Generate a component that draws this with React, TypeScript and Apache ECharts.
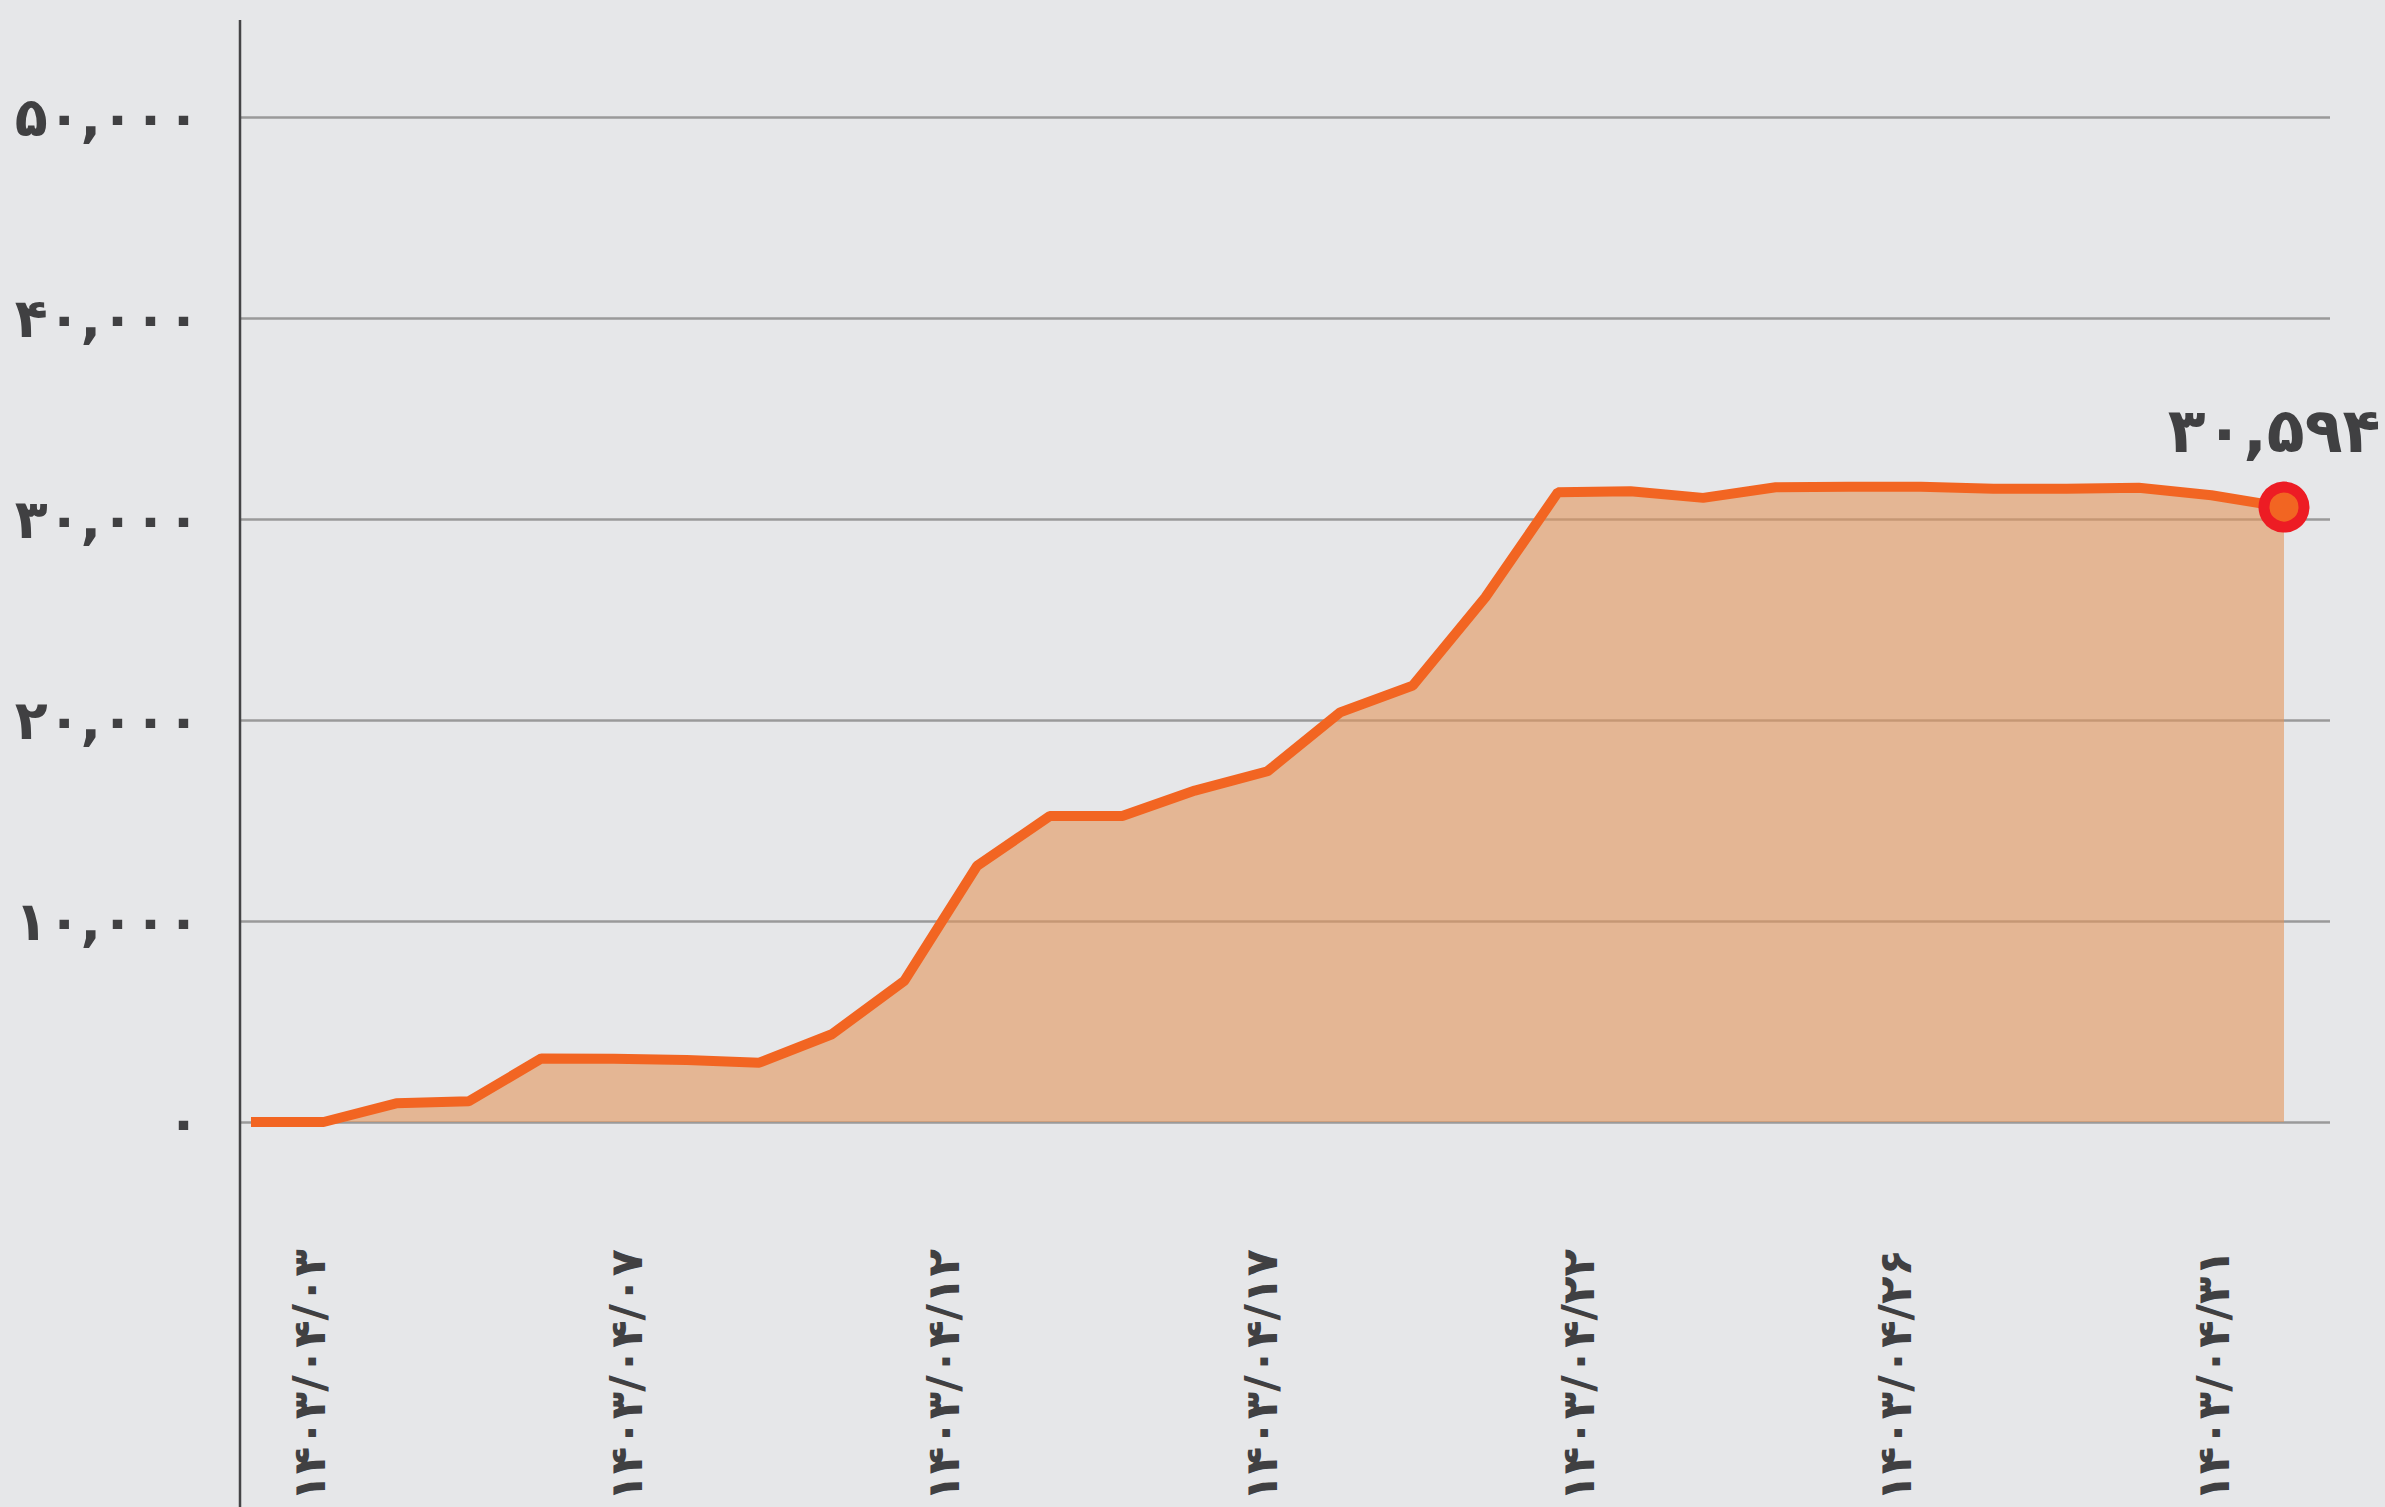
import { useEffect, useRef } from "react";
import * as echarts from "echarts";

// Daily categories (Tir 1403, days 03..31)
const categories = [
  "۱۴۰۳/۰۴/۰۳", "۱۴۰۳/۰۴/۰۴", "۱۴۰۳/۰۴/۰۵", "۱۴۰۳/۰۴/۰۶", "۱۴۰۳/۰۴/۰۷",
  "۱۴۰۳/۰۴/۰۸", "۱۴۰۳/۰۴/۰۹", "۱۴۰۳/۰۴/۱۰", "۱۴۰۳/۰۴/۱۱", "۱۴۰۳/۰۴/۱۲",
  "۱۴۰۳/۰۴/۱۳", "۱۴۰۳/۰۴/۱۴", "۱۴۰۳/۰۴/۱۵", "۱۴۰۳/۰۴/۱۶", "۱۴۰۳/۰۴/۱۷",
  "۱۴۰۳/۰۴/۱۸", "۱۴۰۳/۰۴/۱۹", "۱۴۰۳/۰۴/۲۰", "۱۴۰۳/۰۴/۲۱", "۱۴۰۳/۰۴/۲۲",
  "۱۴۰۳/۰۴/۲۳", "۱۴۰۳/۰۴/۲۴", "۱۴۰۳/۰۴/۲۵", "۱۴۰۳/۰۴/۲۶", "۱۴۰۳/۰۴/۲۷",
  "۱۴۰۳/۰۴/۲۸", "۱۴۰۳/۰۴/۲۹", "۱۴۰۳/۰۴/۳۰", "۱۴۰۳/۰۴/۳۱",
];

const values = [
  0, 0, 930, 1030, 3165, 3150, 3080, 2950, 4365, 7030,
  12740, 15220, 15220, 16490, 17450, 20380, 21710, 26100, 31330, 31380,
  31050, 31580, 31600, 31600, 31500, 31500, 31550, 31180, 30594,
];

const yMin = 0;
const yMax = 50000;
const yInterval = 10000;

const dateTickLabels = [
  "۱۴۰۳/۰۴/۰۳", "۱۴۰۳/۰۴/۰۷", "۱۴۰۳/۰۴/۱۲", "۱۴۰۳/۰۴/۱۷",
  "۱۴۰۳/۰۴/۲۲", "۱۴۰۳/۰۴/۲۶", "۱۴۰۳/۰۴/۳۱",
];

const FA_DIGITS = "۰۱۲۳۴۵۶۷۸۹";
const toFa = (s: string) => s.replace(/[0-9]/g, (d) => FA_DIGITS[+d]);
const fmt = (v: number) => toFa(Math.round(v).toLocaleString("en-US"));

const TEXT = "#404042";
const FONT = "DejaVu Sans";

export default function App() {
  const ref = useRef<HTMLDivElement>(null);
  useEffect(() => {
    document.body.style.margin = "0";
    document.body.style.overflow = "hidden";
    const chart = echarts.init(ref.current!, null, { renderer: "svg" });
    const last = values.length - 1;
    chart.setOption({
      animation: false,
      backgroundColor: "#e6e7e9",
      textStyle: { fontFamily: FONT },
      grid: [
        { left: 240, right: 55, top: 117, bottom: 385 },
        { left: 251, right: 101, top: 117, bottom: 385 },
        { left: 309, right: 172, top: 1000, height: 245 },
      ],
      xAxis: [
        { gridIndex: 0, type: "value", show: false, min: 0, max: 1 },
        {
          gridIndex: 1,
          type: "category",
          data: categories,
          boundaryGap: false,
          show: false,
        },
        {
          gridIndex: 2,
          type: "category",
          data: dateTickLabels,
          boundaryGap: false,
          axisLine: { show: false },
          axisTick: { show: false },
          axisLabel: {
            rotate: 90,
            margin: 4,
            interval: 0,
            fontSize: 45,
            fontWeight: "bold",
            color: TEXT,
            fontFamily: FONT,
          },
        },
      ],
      yAxis: [
        {
          gridIndex: 0,
          type: "value",
          min: yMin,
          max: yMax,
          interval: yInterval,
          axisLine: { show: false },
          axisTick: { show: false },
          axisLabel: {
            margin: 40,
            fontSize: 54,
            fontWeight: "bold",
            color: TEXT,
            fontFamily: FONT,
            formatter: (v: number) => fmt(v),
          },
          splitLine: { lineStyle: { color: "#9a9a9a", width: 2.5 } },
        },
        { gridIndex: 1, type: "value", min: yMin, max: yMax, show: false },
        { gridIndex: 2, type: "value", show: false },
      ],
      series: [
        {
          type: "line",
          xAxisIndex: 1,
          yAxisIndex: 1,
          color: "#f26522",
          symbol: "none",
          lineStyle: { color: "#f26522", width: 10 },
          areaStyle: { color: "rgb(226,150,92)", opacity: 0.6 },
          z: 3,
          data: values.map((v, i) =>
            i === last
              ? {
                  value: v,
                  symbol: "circle",
                  symbolSize: 40,
                  itemStyle: {
                    color: "#f26522",
                    borderColor: "#ed1c24",
                    borderWidth: 11,
                  },
                  label: {
                    show: true,
                    position: "top",
                    distance: 20,
                    offset: [-10, 0],
                    fontSize: 62,
                    fontWeight: "bold",
                    color: TEXT,
                    fontFamily: FONT,
                    formatter: (p: any) => fmt(p.value),
                  },
                }
              : v
          ),
        },
      ],
      graphic: [
        {
          type: "line",
          shape: { x1: 240, y1: 20, x2: 240, y2: 1507 },
          style: { stroke: "#444446", lineWidth: 2.5 },
          z: 10,
        },
      ],
    });
    return () => chart.dispose();
  }, []);
  return (
    <div
      ref={ref}
      style={{ position: "absolute", left: 0, top: 0, width: 2385, height: 1507 }}
    />
  );
}
